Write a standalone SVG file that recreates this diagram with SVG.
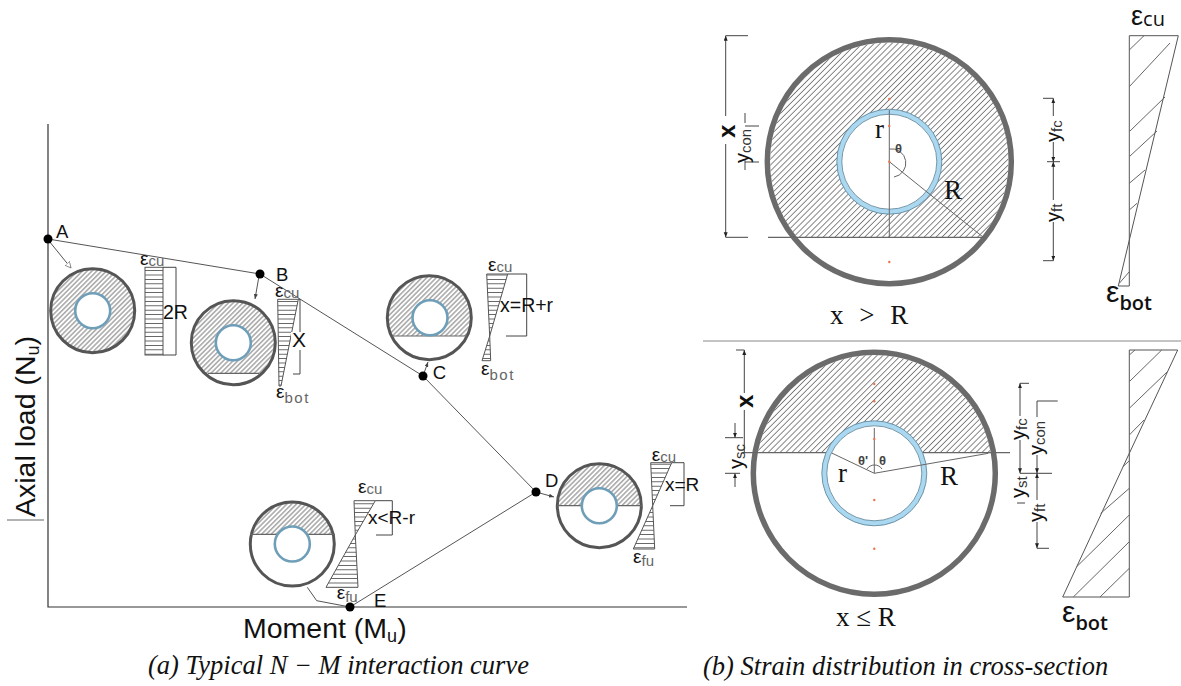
<svg xmlns="http://www.w3.org/2000/svg" width="1181" height="686" viewBox="0 0 1181 686">
<style>
text{font-family:"Liberation Sans",Arial,sans-serif;fill:#111}
.ln{fill:none;stroke:#555;stroke-width:1}
.ax{fill:none;stroke:#333;stroke-width:1.2}
.dim{fill:none;stroke:#444;stroke-width:1}
.dot{fill:#000}
.outer{fill:#fff;stroke:#555;stroke-width:3}
.chord{stroke:#666;stroke-width:1.2;fill:none}
.ring{fill:#fff;stroke:#6f9fb8;stroke-width:2.6}
.strain{fill:url(#hl);stroke:#555;stroke-width:1}
.e{font-size:19px}
.s{font-size:15px;fill:#666}
.lab{font-size:18.5px}
.serif{font-family:"Liberation Serif","Times New Roman",serif;font-size:27px}
.cap{font-family:"Liberation Serif","Times New Roman",serif;font-style:italic;font-size:26.5px}
.bigouter{fill:#fff;stroke:#6b6b6b;stroke-width:5.5}
.bigring{fill:#fff;stroke:#a9d8f0;stroke-width:5}
.bigringo{fill:none;stroke:#5a7f93;stroke-width:.8}
.thin{fill:none;stroke:#666;stroke-width:1}
.y{font-size:20px}
.ys{font-size:15px;fill:#333}
.bx{font-size:24px;font-weight:bold}
.rd{fill:#e8764f}
.tri{fill:none;stroke:#555;stroke-width:1}
.ms{marker-start:url(#ah)}
.me{marker-end:url(#ah2)}
</style>
<defs>
<pattern id="hs" width="3.4" height="3.4" patternUnits="userSpaceOnUse" patternTransform="rotate(-45)"><line x1="0" y1="1.7" x2="3.4" y2="1.7" stroke="#555" stroke-width=".8"/></pattern>
<pattern id="hb" width="4.2" height="4.2" patternUnits="userSpaceOnUse" patternTransform="rotate(-45)"><line x1="0" y1="2.1" x2="4.2" y2="2.1" stroke="#777" stroke-width=".9"/></pattern>
<pattern id="hl" width="6" height="4.4" patternUnits="userSpaceOnUse"><line x1="0" y1="2.2" x2="6" y2="2.2" stroke="#555" stroke-width=".9"/></pattern>
<marker id="open" markerWidth="7" markerHeight="7" refX="6" refY="3" orient="auto"><path d="M0 0L6 3L0 6Z" fill="#fff" stroke="#666" stroke-width=".7"/></marker>
<marker id="sol" markerWidth="6" markerHeight="6" refX="5" refY="2" orient="auto"><path d="M0 0L5 2L0 4Z" fill="#444"/></marker>
<marker id="ah" markerWidth="6" markerHeight="6" refX="5" refY="2" orient="auto-start-reverse"><path d="M0 0L5 2L0 4Z" fill="#222"/></marker>
<marker id="ah2" markerWidth="6" markerHeight="6" refX="5" refY="2" orient="auto"><path d="M0 0L5 2L0 4Z" fill="#222"/></marker>
<clipPath id="cb"><rect x="150" y="280" width="180" height="93.3"/></clipPath>
<clipPath id="cc"><rect x="370" y="260" width="120" height="76"/></clipPath>
<clipPath id="cd"><rect x="540" y="450" width="120" height="55.7"/></clipPath>
<clipPath id="ce"><rect x="235" y="490" width="120" height="44.3"/></clipPath>
<clipPath id="ct"><rect x="750" y="30" width="280" height="207.3"/></clipPath>
<clipPath id="cl"><rect x="740" y="340" width="280" height="112.7"/></clipPath>
</defs>
<rect width="1181" height="686" fill="#fff"/>

<g id="axes">
<path class="ax" d="M48 124V607H687"/>
<path d="M7 520H44" stroke="#666" stroke-width="1"/>
<text transform="translate(35,517) rotate(-90)" font-size="28.5">Axial load (N<tspan font-size="18" dy="4">u</tspan><tspan dy="-4">)</tspan></text>
<text x="243" y="638" font-size="28.5">Moment (M<tspan font-size="18" dy="4">u</tspan><tspan dy="-4">)</tspan></text>
</g>

<g id="connectors">
<path class="ln" d="M48 239L260 274L423 376L536 492L350 607"/>
<path class="ln" marker-end="url(#open)" d="M49 241L71 268"/>
<path class="ln" marker-end="url(#sol)" d="M259 276L255 299"/>
<path class="ln" marker-end="url(#sol)" d="M423 376L428 362"/>
<path class="ln" marker-end="url(#sol)" d="M536 492L554 497"/>
<path class="ln" d="M307.300 587.300L316.700 600.700L350 607"/>
</g>

<g id="node-A">
<circle class="dot" cx="48" cy="239" r="4.500"/>
<text class="lab" x="56" y="238">A</text>
<circle class="outer" cx="92.700" cy="310.700" r="42"/>
<circle cx="92.700" cy="310.700" r="41" fill="url(#hs)"/>
<circle class="ring" cx="92.700" cy="310.700" r="17.500"/>
<rect class="strain" x="145" y="267.300" width="18" height="87.700"/>
<text class="e" x="140" y="265">ε<tspan class="s" dy="1">cu</tspan></text>
<path class="dim" d="M163 267.300H176V355H163"/>
<text x="163" y="319" font-size="19.500">2R</text>
</g>

<g id="node-B">
<circle class="dot" cx="260" cy="274" r="4.500"/>
<text class="lab" x="276" y="281">B</text>
<circle class="outer" cx="233.300" cy="342.700" r="42"/>
<circle cx="233.300" cy="342.700" r="41" fill="url(#hs)" clip-path="url(#cb)"/>
<path class="chord" d="M208 373.300H259"/>
<circle class="ring" cx="233.300" cy="342.700" r="17.500"/>
<polygon class="strain" points="277.700,299.300 298.300,299.300 281,386 279,386"/>
<text class="e" x="275" y="297">ε<tspan class="s" dy="1">cu</tspan></text>
<path class="dim" d="M298.300 299.300H300V374H293"/>
<rect x="291" y="332" width="18" height="18" fill="#fff"/>
<text x="292" y="347" font-size="21">X</text>
<text class="e" x="276" y="398">ε<tspan class="s" dy="5" letter-spacing="1.500">bot</tspan></text>
</g>

<g id="node-C">
<circle class="dot" cx="423" cy="376" r="4.500"/>
<text class="lab" x="432.700" y="379">C</text>
<circle class="outer" cx="429.300" cy="317.700" r="42"/>
<circle cx="429.300" cy="317.700" r="41" fill="url(#hs)" clip-path="url(#cc)"/>
<path class="chord" d="M392 336H467"/>
<circle class="ring" cx="430" cy="317.700" r="17.500"/>
<polygon class="strain" points="486.700,274 507.700,274 489.700,336"/>
<polygon class="strain" points="489.700,336 490.700,360.700 482,360.700"/>
<text class="e" x="488" y="271">ε<tspan class="s" dy="1">cu</tspan></text>
<path class="dim" d="M507.700 274H526.700V336H506"/>
<text x="500" y="312" font-size="19.500">x=R+r</text>
<text class="e" x="481" y="375">ε<tspan class="s" dy="5" letter-spacing="1.500">bot</tspan></text>
</g>

<g id="node-D">
<circle class="dot" cx="536" cy="492" r="4.500"/>
<text class="lab" x="545" y="486.700">D</text>
<circle class="outer" cx="599.300" cy="505.700" r="42"/>
<circle cx="599.300" cy="505.700" r="41" fill="url(#hs)" clip-path="url(#cd)"/>
<path class="chord" d="M557 505.700H642"/>
<circle class="ring" cx="599.300" cy="505.700" r="17.500"/>
<polygon class="strain" points="650.700,462.700 671.700,462.700 652.700,505.700"/>
<polygon class="strain" points="652.700,505.700 654.700,549 633.300,549"/>
<text class="e" x="651.700" y="461">ε<tspan class="s" dy="1">cu</tspan></text>
<path class="dim" d="M671.700 462.700H684V505.700H670"/>
<text x="665" y="491" font-size="19">x=R</text>
<text class="e" x="633" y="563">ε<tspan class="s" dy="3">fu</tspan></text>
</g>

<g id="node-E">
<circle class="dot" cx="350" cy="607" r="4.500"/>
<text class="lab" x="374" y="606.700">E</text>
<circle class="outer" cx="292.300" cy="544" r="42"/>
<circle cx="292.300" cy="544" r="41" fill="url(#hs)" clip-path="url(#ce)"/>
<path class="chord" d="M250 534.300H335"/>
<circle class="ring" cx="292.300" cy="544" r="17.500"/>
<polygon class="strain" points="354,500.700 375.300,500.700 355.300,535"/>
<polygon class="strain" points="355.300,535 358,587.300 326,587.300"/>
<text class="e" x="358" y="493">ε<tspan class="s" dy="1">cu</tspan></text>
<path class="dim" d="M375.300 500.700H392.300V535H376"/>
<text x="368" y="524" font-size="19">x&lt;R-r</text>
<text class="e" x="336.700" y="599">ε<tspan class="s" dy="3">fu</tspan></text>
</g>

<g id="caption-a"><text class="cap" x="148" y="674">(a) Typical N − M interaction curve</text></g>
<g id="caption-b"><text class="cap" x="703" y="675">(b) Strain distribution in cross-section</text></g>

<line x1="703" y1="341" x2="1181" y2="341" stroke="#888" stroke-width="1"/>

<g id="section-top">
<circle class="bigouter" cx="889.300" cy="161.700" r="122"/>
<circle cx="889.300" cy="161.700" r="119.200" fill="url(#hb)" clip-path="url(#ct)"/>
<path class="chord" d="M768 237.300H985"/>
<circle class="bigring" cx="889.300" cy="161.700" r="50"/>
<circle class="bigringo" cx="889.300" cy="161.700" r="52.500"/>
<circle class="bigringo" cx="889.300" cy="161.700" r="47.500"/>
<path class="thin" d="M889.300 110V237.300M889.300 161.700L983.300 237.300"/>
<path class="thin" d="M889.300 149A13 13 0 0 1 894 177"/>
<text x="895" y="153" font-size="13" font-weight="bold" style="fill:#444">θ</text>
<text class="serif" x="875" y="138">r</text>
<text class="serif" x="944" y="199">R</text>
<circle class="rd" cx="889.300" cy="99" r="1.200"/><circle class="rd" cx="889.300" cy="126" r="1.200"/><circle class="rd" cx="889.300" cy="161.700" r="1.200"/><circle class="rd" cx="889.300" cy="262" r="1.200"/>
<path class="dim" d="M748 35.700H725.700M725.700 237.300H748"/>
<path class="dim ms" d="M725.700 35.700V116"/>
<path class="dim me" d="M725.700 144V237.300"/>
<text class="bx" transform="translate(735,138) rotate(-90)">x</text>
<path class="dim" d="M745 113V123M745 160V170M745 126H759M745 162H759"/>
<text class="y" transform="translate(749,163) rotate(-90)">y<tspan class="ys" dy="2">con</tspan></text>
<path class="dim" d="M1043 98.300H1053.300M1053.300 260.700H1043M1047 161.700H1060"/>
<path class="dim ms" d="M1053.300 98.300V116"/>
<path class="dim me" d="M1053.300 142V161.700"/>
<path class="dim ms" d="M1053.300 161.700V200"/>
<path class="dim me" d="M1053.300 222V260.700"/>
<text class="y" transform="translate(1060,142) rotate(-90)">y<tspan class="ys" dy="2">fc</tspan></text>
<text class="y" transform="translate(1060,222) rotate(-90)">y<tspan class="ys" dy="2">ft</tspan></text>
<text class="serif" x="830" y="324" word-spacing="9">x &gt; R</text>
<polygon class="tri" points="1129.300,35.700 1178.300,35.700 1118.300,286 1129.300,286"/>
<path class="thin" d="M1129.300 50L1144 35.700M1129.300 86.700L1170 43M1129.300 131.700L1165 97M1129.300 156.700L1157 131M1129.300 183.300L1145 170M1129.300 210L1137 203.300M1119.300 283.300L1129.300 271.700"/>
<text x="1131" y="25" font-size="27">ε<tspan font-size="20" dy="1" font-family="Open Sans">cu</tspan></text>
<text x="1106" y="302" font-size="30">ε<tspan font-size="20" dy="8" font-family="Open Sans" font-weight="600">bot</tspan></text>
</g>

<g id="section-bottom">
<circle class="bigouter" cx="874.300" cy="473.300" r="121"/>
<circle cx="874.300" cy="473.300" r="118.200" fill="url(#hb)" clip-path="url(#cl)"/>
<path class="chord" d="M743 452.700H1010"/>
<circle class="bigring" cx="874.300" cy="473.300" r="50"/>
<circle class="bigringo" cx="874.300" cy="473.300" r="52.500"/>
<circle class="bigringo" cx="874.300" cy="473.300" r="47.500"/>
<path class="thin" d="M874.300 428V473.300M831.700 453L874.300 473.300L988.300 453.300"/>
<path class="thin" d="M867 469A9 9 0 0 1 882 469"/>
<text x="858" y="465" font-size="13" font-weight="bold" style="fill:#444">θ'</text><text x="879" y="465" font-size="13" font-weight="bold" style="fill:#444">θ</text>
<text class="serif" x="838" y="482">r</text>
<text class="serif" x="940" y="485">R</text>
<circle class="rd" cx="874.300" cy="384" r="1.200"/><circle class="rd" cx="874.300" cy="401.300" r="1.200"/><circle class="rd" cx="874.300" cy="439" r="1.200"/><circle class="rd" cx="874.300" cy="500" r="1.200"/><circle class="rd" cx="874.300" cy="548.700" r="1.200"/>
<path class="dim" d="M736 350H744.300"/>
<path class="dim ms" d="M744.300 350V393"/>
<path class="dim" d="M744.300 410V452.700"/>
<text class="bx" transform="translate(753,408) rotate(-90)">x</text>
<path class="dim me" d="M735 423V437.700"/>
<path class="dim ms" d="M735 473.300V487"/>
<path class="dim" d="M725 437.700H743M725 473.300H740"/>
<text class="y" transform="translate(743,469) rotate(-90)">y<tspan class="ys" dy="2">sc</tspan></text>
<path class="dim" d="M1029 383.300H1020M1057.700 401H1037M1020 473.300H1052M1037 548.300H1049M1017 503H1025"/>
<path class="dim ms" d="M1020 383.300V416"/>
<path class="dim me" d="M1020 440V473.300"/>
<path class="dim" d="M1037 401V417"/>
<path class="dim me" d="M1037 455V473.300"/>
<path class="dim ms" d="M1037 473.300V500"/>
<path class="dim me" d="M1037 522V548.300"/>
<text class="y" transform="translate(1025,440) rotate(-90)">y<tspan class="ys" dy="2">fc</tspan></text>
<text class="y" transform="translate(1043,455) rotate(-90)">y<tspan class="ys" dy="2">con</tspan></text>
<text class="y" transform="translate(1025,498) rotate(-90)">y<tspan class="ys" dy="2">st</tspan></text>
<text class="y" transform="translate(1043,522) rotate(-90)">y<tspan class="ys" dy="2">ft</tspan></text>
<text class="serif" x="836" y="626" font-size="28">x ≤ R</text>
<polygon class="tri" points="1129.300,350 1177.700,350 1129.300,453.300 1062.700,597 1129.300,597"/>
<path class="thin" d="M1129.300 355L1135 350M1129.300 381.700L1161.700 350M1129.300 408.300L1167 372M1129.300 435L1144 420M1123 466.700L1129.300 460.700M1100.700 513.300L1129.300 488.300M1076.700 566.700L1129.300 515M1073.300 597L1129.300 541.700M1100 597L1129.300 568.300"/>
<text x="1062" y="622" font-size="30">ε<tspan font-size="20" dy="8" font-family="Open Sans" font-weight="600">bot</tspan></text>
</g>
</svg>
